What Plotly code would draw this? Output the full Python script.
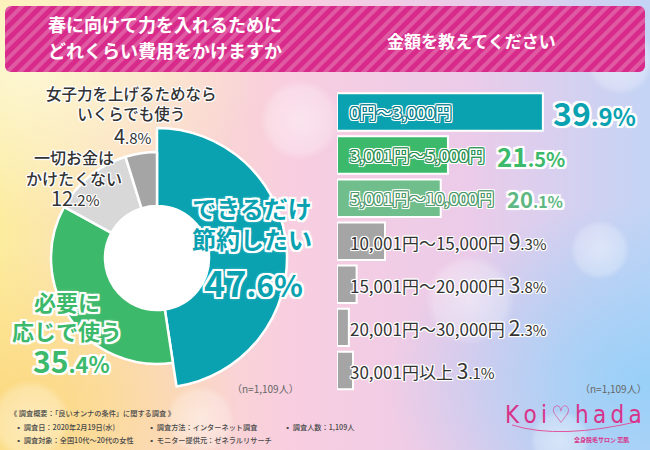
import base64
import plotly.graph_objects as go

W, H = 650, 450

# ---------------- data ----------------
title_left_1 = "春に向けて力を入れるために"
title_left_2 = "どれくらい費用をかけますか"
title_right = "金額を教えてください"

donut_labels = ["できるだけ<br>節約したい", "必要に<br>応じで使う", "一切お金は<br>かけたくない",
                "女子力を上げるためなら<br>いくらでも使う"]
donut_values = [47.6, 35.4, 12.2, 4.8]
donut_colors = ["#0aa2b1", "#3db96b", "#d8d8d8", "#a5a5a5"]

bar_labels = ["0円～3,000円", "3,001円～5,000円", "5,001円～10,000円", "10,001円～15,000円",
              "15,001円～20,000円", "20,001円～30,000円", "30,001円以上"]
bar_values = [39.9, 21.5, 20.1, 9.3, 3.8, 2.3, 3.1]
bar_colors = ["#0aa2b1", "#3db96b", "#70be8c", "#a5a5a5", "#a5a5a5", "#a5a5a5", "#a5a5a5"]

n_label = "（n=1,109人）"
footer_1 = "《 調査概要：「良いオンナの条件」に関する調査 》"
footer_2 = ["▪ 調査日：2020年2月19日(水)", "▪ 調査方法：インターネット調査", "▪ 調査人数：1,109人"]
footer_3 = ["▪ 調査対象：全国10代～20代の女性", "▪ モニター提供元：ゼネラルリサーチ"]
logo_text = "K\u2009o\u2009i\u2009♡\u2009h\u2009a\u2009d\u2009a"
logo_sub = "全身脱毛サロン 恋肌"

FONT = "Noto Sans CJK JP"


def px(x):
    return x / W


def py(y):
    return 1 - y / H


def ring(color, w):
    parts = []
    for dx in (-w, 0, w):
        for dy in (-w, 0, w):
            if dx or dy:
                parts.append(f"{dx}px {dy}px 0px {color}")
    return parts


def halo(color, w=2, blur=True):
    parts = ring(color, w)
    if blur:
        parts.append(f"0px 0px {w + 2}px {color}")
    return ", ".join(parts)


def double_halo(inner, outer):
    return ", ".join(ring(inner, 1) + ring(outer, 2) + [f"0px 0px 3px {outer}"])


def pct_html(v, big, small):
    i, d = f"{v:.1f}".split(".")
    return (f"<span style='font-size:{big}px'>{i}</span>"
            f"<span style='font-size:{small}px'>.{d}%</span>")


# ---------------- background (svg decoration) ----------------
bg_svg = """<svg xmlns="http://www.w3.org/2000/svg" width="650" height="450" viewBox="0 0 650 450">
<defs>
<linearGradient id="g" x1="0" y1="0" x2="1" y2="0">
<stop offset="0" stop-color="#fcec9e"/>
<stop offset="0.2" stop-color="#fbdcc4"/>
<stop offset="0.45" stop-color="#f8cee0"/>
<stop offset="0.72" stop-color="#ebcbe9"/>
<stop offset="1" stop-color="#c4d4f5"/>
</linearGradient>
<radialGradient id="tl" cx="0.05" cy="0.15" r="0.35">
<stop offset="0" stop-color="#fdf8d8" stop-opacity="0.9"/>
<stop offset="1" stop-color="#fdf8d8" stop-opacity="0"/>
</radialGradient>
<radialGradient id="bl" cx="0.02" cy="0.9" r="0.35">
<stop offset="0" stop-color="#fcd77e" stop-opacity="0.9"/>
<stop offset="1" stop-color="#fcd77e" stop-opacity="0"/>
</radialGradient>
<radialGradient id="br" cx="1" cy="0.85" r="0.4">
<stop offset="0" stop-color="#98d0f8" stop-opacity="1"/>
<stop offset="1" stop-color="#98d0f8" stop-opacity="0"/>
</radialGradient>
<radialGradient id="bk">
<stop offset="0" stop-color="#ffffff" stop-opacity="0.45"/>
<stop offset="0.8" stop-color="#ffffff" stop-opacity="0.25"/>
<stop offset="1" stop-color="#ffffff" stop-opacity="0"/>
</radialGradient>
<pattern id="st" width="9" height="9" patternUnits="userSpaceOnUse" patternTransform="rotate(45)">
<rect width="9" height="9" fill="#d72a8b"/>
<rect width="4" height="9" fill="#e05aa3"/>
</pattern>
</defs>
<rect width="650" height="450" fill="url(#g)"/>
<rect width="650" height="450" fill="url(#tl)"/>
<rect width="650" height="450" fill="url(#bl)"/>
<rect width="650" height="450" fill="url(#br)"/>
<circle cx="300" cy="120" r="40" fill="url(#bk)"/>
<circle cx="620" cy="60" r="35" fill="url(#bk)"/>
<circle cx="600" cy="250" r="30" fill="url(#bk)"/>
<circle cx="200" cy="420" r="35" fill="url(#bk)"/>
<circle cx="470" cy="300" r="45" fill="url(#bk)"/>
<circle cx="30" cy="420" r="40" fill="url(#bk)"/>
<circle cx="560" cy="440" r="30" fill="url(#bk)"/>
<rect x="5" y="6" width="640" height="66" rx="6" ry="6" fill="url(#st)"/>
<path d="M512 425 Q 560 440 640 421" stroke="#e0579c" stroke-width="1" fill="none"/>
</svg>"""
bg_src = "data:image/svg+xml;base64," + base64.b64encode(bg_svg.encode("utf-8")).decode()

fig = go.Figure()

# ---------------- donut ----------------
cx, cy = 157, 258
R_big, R_small, R_hole = 130, 106, 52

fig.add_trace(go.Pie(
    values=donut_values, labels=[l.replace("<br>", "") for l in donut_labels],
    sort=False, direction="clockwise", rotation=0,
    marker=dict(colors=[donut_colors[0]] + ["rgba(0,0,0,0)"] * 3,
                line=dict(color="white", width=[2.5, 0, 0, 0])),
    textinfo="none", hoverinfo="label+percent", showlegend=False,
    hole=R_hole / R_big,
    domain=dict(x=[px(cx - R_big), px(cx + R_big)], y=[py(cy + R_big), py(cy - R_big)]),
))
fig.add_trace(go.Pie(
    values=donut_values, labels=[l.replace("<br>", "") for l in donut_labels],
    sort=False, direction="clockwise", rotation=0,
    marker=dict(colors=["rgba(0,0,0,0)"] + donut_colors[1:],
                line=dict(color="white", width=[0, 2.5, 2.5, 2.5])),
    textinfo="none", hoverinfo="label+percent", showlegend=False,
    hole=R_hole / R_small,
    domain=dict(x=[px(cx - R_small), px(cx + R_small)], y=[py(cy + R_small), py(cy - R_small)]),
))

# ---------------- bars ----------------
x_left, x_right = 337, 645
px_per_pct = 5.16
fig.add_trace(go.Bar(
    y=bar_labels, x=bar_values, orientation="h",
    marker=dict(color=bar_colors, line=dict(color="white", width=2)),
    showlegend=False, hoverinfo="y+x",
))

fig.update_layout(
    width=W, height=H,
    margin=dict(l=0, r=0, t=0, b=0),
    paper_bgcolor="white", plot_bgcolor="rgba(0,0,0,0)",
    bargap=0.13,
    xaxis=dict(domain=[px(x_left), px(x_right)], range=[0, (x_right - x_left) / px_per_pct],
               visible=False, fixedrange=True),
    yaxis=dict(domain=[py(392), py(87)], autorange="reversed", visible=False, fixedrange=True,
               categoryorder="array", categoryarray=bar_labels),
    images=[dict(source=bg_src, xref="paper", yref="paper", x=0, y=1, sizex=1, sizey=1,
                 xanchor="left", yanchor="top", sizing="stretch", layer="below")],
    shapes=[dict(type="circle", xref="paper", yref="paper",
                 x0=px(cx - R_hole), x1=px(cx + R_hole), y0=py(cy + R_hole), y1=py(cy - R_hole),
                 fillcolor="white", line=dict(width=0))],
)

ann = []


def add(text, x, y, size, color, xanchor="center", weight="normal", shadow=None,
        xref="paper", yref="paper", xshift=0, family=FONT):
    ann.append(dict(text=text, x=x, y=y, xref=xref, yref=yref, xanchor=xanchor, yanchor="middle",
                    showarrow=False, xshift=xshift,
                    font=dict(family=family, size=size, color=color, weight=weight,
                              shadow=shadow if shadow else "none")))


# header
add(title_left_1, px(165), py(24), 18, "white", weight="bold")
add(title_left_2, px(165), py(50), 18, "white", weight="bold")
add(title_right, px(471), py(40), 17, "white", weight="bold")

# donut labels
teal, green, dark = donut_colors[0], donut_colors[1], "#333333"
add(donut_labels[0], px(252), py(223), 24, teal, weight="bold", shadow=halo("white", 2))
add(pct_html(donut_values[0], 36, 30), px(253), py(281), 34, teal, weight="bold", shadow=halo("white", 2))
add(donut_labels[1], px(67), py(315), 22, green, weight="bold", shadow=halo("white", 2))
add(pct_html(donut_values[1], 30, 22), px(71), py(360), 28, green, weight="bold", shadow=halo("white", 2))
add(donut_labels[2], px(74), py(167), 16, dark, weight=500, shadow=halo("white", 1))
add(pct_html(donut_values[2], 20, 15), px(75), py(197), 18, dark, shadow=halo("white", 1))
add(donut_labels[3], px(131), py(103), 15.5, dark, weight=500, shadow=halo("white", 1))
add(pct_html(donut_values[3], 20, 15), px(133), py(135), 18, dark, shadow=halo("white", 1))

# bar labels
LS = 17  # label font size
label_stroke = ["#067f8b", "#2a8f50", "#4f9a6b"]
pct_colors = [teal, green, "#5fb884"]
pct_sizes = [(32, 24), (26, 20), (22, 16)]


def est_width(s, size):
    return sum(size if ord(c) > 255 else (0.3 * size if c == "," else 0.58 * size) for c in s)


for i, (lab, v) in enumerate(zip(bar_labels, bar_values)):
    if i < 3:
        add(lab, px(348), lab, LS - 0.5, "white", xanchor="left", weight=500,
            shadow=double_halo(label_stroke[i], "white"), yref="y")
        if v * px_per_pct > est_width(lab, LS) + 20:
            add(pct_html(v, *pct_sizes[i]), v, lab, 28, pct_colors[i], xanchor="left", weight="bold",
                shadow=halo("white", 2), xref="x", yref="y", xshift=8)
        else:
            add(pct_html(v, *pct_sizes[i]), px(348 + est_width(lab, LS) + 7), lab, 20, pct_colors[i],
                xanchor="left", weight="bold", shadow=halo("white", 2), yref="y")
    else:
        add(f"{lab} {pct_html(v, 21, 15)}", px(348), lab, LS, "#333333", xanchor="left",
            shadow=halo("white", 1), yref="y")

# n labels
add(n_label, px(265), py(388), 10, "#666666")
add(n_label, px(613), py(388), 10, "#666666")

# footer
FS = 7.2
add(footer_1, px(8), py(413), FS, "#4a4a4a", xanchor="left", weight=500)
for t, x in zip(footer_2, [13, 146, 282]):
    add(t, px(x), py(427), FS, "#4a4a4a", xanchor="left", weight=500)
for t, x in zip(footer_3, [13, 146]):
    add(t, px(x), py(440), FS, "#4a4a4a", xanchor="left", weight=500)

# logo
add(logo_text, px(573), py(415), 24, "#d8338a", family="Liberation Sans Narrow, DejaVu Sans Condensed")
add(logo_sub, px(601), py(439), 6, "#d8338a", weight="bold")

fig.update_layout(annotations=ann)
fig.write_html("out.html", config={"displayModeBar": False},
               post_script="document.body.style.margin='0';")
